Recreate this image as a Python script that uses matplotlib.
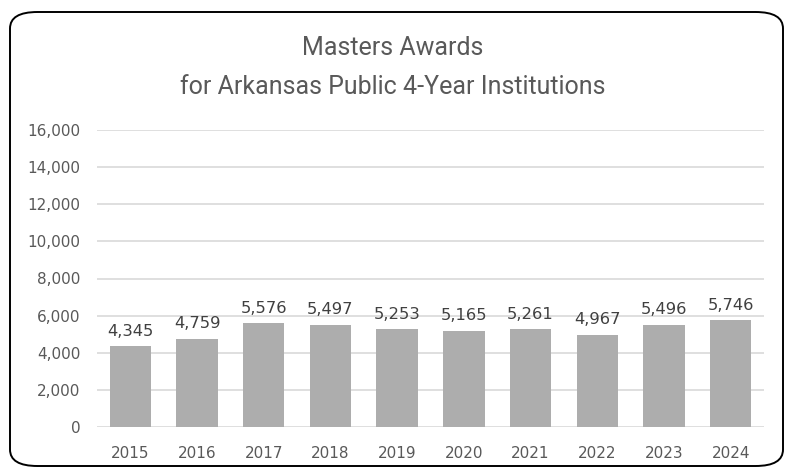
import matplotlib.pyplot as plt
from matplotlib.patches import FancyBboxPatch

years = ["2015", "2016", "2017", "2018", "2019", "2020", "2021", "2022", "2023", "2024"]
awards = [4345, 4759, 5576, 5497, 5253, 5165, 5261, 4967, 5496, 5746]
y_ticks = [0, 2000, 4000, 6000, 8000, 10000, 12000, 14000, 16000]

plt.rcParams['font.family'] = ['DejaVu Sans']

fig = plt.figure(figsize=(7.85, 4.70), dpi=100)
ax = fig.add_axes([97 / 785, 43 / 470, 667 / 785, 297 / 470])

# rounded outer frame
box = FancyBboxPatch((10 / 785, 4 / 470), 773 / 785, 454 / 470,
                     boxstyle="round,pad=0,rounding_size=0.035",
                     transform=fig.transFigure, facecolor='none',
                     edgecolor='black', linewidth=1.4, zorder=0)
fig.patches.append(box)

x = range(len(years))
bars = ax.bar(x, awards, width=0.62, color='#adadad', zorder=2)
for xi, v in zip(x, awards):
    ax.text(xi, v + 420, f"{v:,}", ha='center', va='bottom',
            fontsize=11.8, color='#404040')

ax.set_xlim(-0.5, len(years) - 0.5)
ax.set_ylim(0, 16000)
ax.set_yticks(y_ticks)
ax.set_yticklabels([f"{t:,}" for t in y_ticks])
ax.set_xticks(list(x))
ax.set_xticklabels(years)
ax.tick_params(axis='both', length=0, labelsize=11, colors='#595959')
ax.tick_params(axis='x', pad=14)
ax.tick_params(axis='y', pad=12)
ax.grid(axis='y', color='#d9d9d9', linewidth=1.2, zorder=1)
for s in ax.spines.values():
    s.set_visible(False)

title_font = ['Roboto', 'DejaVu Sans']
fig.text(0.5, 1 - 48 / 470, "Masters Awards", ha='center', va='center',
         fontsize=18, color='#595959', family=title_font)
fig.text(0.5, 1 - 87 / 470, "for Arkansas Public 4-Year Institutions", ha='center', va='center',
         fontsize=18, color='#595959', family=title_font)

fig.savefig("out.png", dpi=100)
